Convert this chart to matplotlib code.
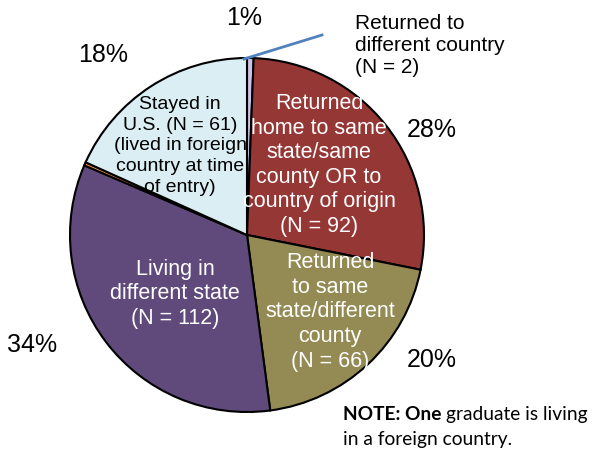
import matplotlib
matplotlib.use("Agg")
import matplotlib.pyplot as plt

categories = [
    "Returned to different country",
    "Returned home to same state/same county OR to country of origin",
    "Returned to same state/different county",
    "Living in different state",
    "Living in a foreign country",
    "Stayed in U.S.",
]
counts = [2, 92, 66, 112, 1, 61]
pct_labels = ["1%", "28%", "20%", "34%", "", "18%"]
inner_labels = [
    "",
    "Returned\nhome to same\nstate/same\ncounty OR to\ncountry of origin\n(N = 92)",
    "Returned\nto same\nstate/different\ncounty\n(N = 66)",
    "Living in\ndifferent state\n(N = 112)",
    "",
    "Stayed in\nU.S. (N = 61)\n(lived in foreign\ncountry at time\nof entry)",
]
colors = ["#CCC3E8", "#953735", "#948A54", "#604A7B", "#F79646", "#DAEEF3"]

W, H = 592, 456
cx, cy, R = 247, 236, 177

def d(px, py):
    return ((px - cx) / R, (cy - py) / R)

fig = plt.figure(figsize=(W / 100, H / 100), dpi=100)
ax = fig.add_axes([(cx - R) / W, (H - cy - R) / H, 2 * R / W, 2 * R / H])

ax.pie(counts, colors=colors, startangle=90, counterclock=False, radius=1,
       wedgeprops=dict(edgecolor="black", linewidth=1.5))
ax.set_xlim(-1, 1)
ax.set_ylim(-1, 1)
ax.set_aspect("equal")
ax.axis("off")

font = "Liberation Sans"

# percentage labels
pct_pos = [(244, 18), (432, 130), (432, 360), (32, 345), None, (103, 55)]
for lab, pos in zip(pct_labels, pct_pos):
    if lab and pos:
        x, y = d(*pos)
        ax.text(x, y, lab, ha="center", va="center", fontsize=18,
                family=font, color="black", clip_on=False)

# inner labels
inner_pos = [None, (319, 165), (330, 312), (175, 294), None, (180, 146)]
inner_col = ["black", "white", "white", "white", "black", "black"]
inner_size = [15, 15.5, 15.5, 15.5, 14, 14]
inner_ls = [1.2, 1.22, 1.22, 1.22, 1.3, 1.3]
for lab, pos, c, s, ls in zip(inner_labels, inner_pos, inner_col, inner_size, inner_ls):
    if lab and pos:
        x, y = d(*pos)
        ax.text(x, y, lab, ha="center", va="center", fontsize=s, family=font,
                color=c, linespacing=ls, clip_on=False)

# callout for small slice
x0, y0 = d(244, 60)
x1, y1 = d(322, 36)
ax.plot([x0, x1], [y0, y1], color="#4F81BD", lw=2, clip_on=False)
tx, ty = d(355, 46)
ax.text(tx, ty, "Returned to\ndifferent country\n(N = 2)", ha="left", va="center",
        fontsize=15, family=font, linespacing=1.2, clip_on=False)

# note
t1 = fig.text(343 / W, 1 - 415 / H, "NOTE: One", ha="left", va="center",
              fontsize=13.8, family="Lato", fontweight="bold")
fig.canvas.draw()
bb = t1.get_window_extent()
fig.text((bb.x1 + 4) / W, 1 - 415 / H, "graduate is living", ha="left",
         va="center", fontsize=13.8, family="Lato")
fig.text(343 / W, 1 - 440 / H, "in a foreign country.", ha="left", va="center",
         fontsize=13.8, family="Lato")

fig.savefig("out.png", dpi=100)
